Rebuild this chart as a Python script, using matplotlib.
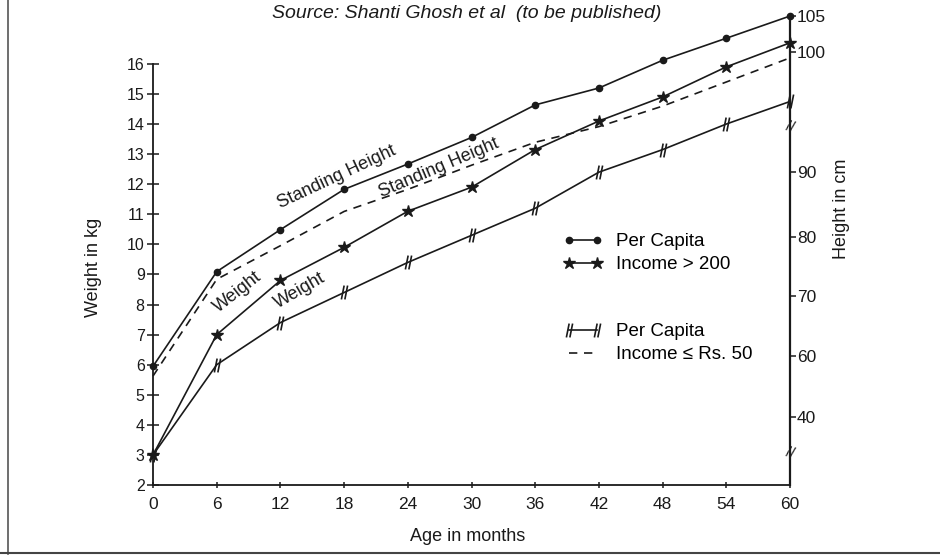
import numpy as np
import matplotlib
matplotlib.use('Agg')
import matplotlib.pyplot as plt
from matplotlib.path import Path
from matplotlib.lines import Line2D

plt.rcParams['font.family'] = ['Liberation Sans', 'DejaVu Sans']

# data
ages = [0, 6, 12, 18, 24, 30, 36, 42, 48, 54, 60]
weight_high = [3.0, 7.0, 8.8, 9.9, 11.1, 11.9, 13.15, 14.1, 14.9, 15.9, 16.7]   # kg
weight_low = [3.0, 6.0, 7.4, 8.4, 9.4, 10.3, 11.2, 12.4, 13.15, 14.0, 14.75]    # kg
height_high = [56.7, 74.2, 81.2, 87.4, 90.7, 92.9, 95.6, 97.0, 99.3, 101.9, 105.0]  # cm
height_low = [53.5, 72.9, 78.6, 84.0, 87.4, 90.6, 92.5, 93.8, 95.5, 97.5, 99.5]     # cm

weight_ticks = list(range(2, 17))
height_ticks = [40, 60, 70, 80, 90, 100, 105]
age_ticks = ages

# the right hand (height) axis of the original is drawn piecewise, with breaks
cm_knots = np.array([10, 40, 60, 70, 80, 90, 100, 105, 115])
kg_knots = np.array([1.23, 4.26, 6.28, 8.27, 10.23, 12.39, 16.40, 17.59, 19.97])


def fwd(v):
    return np.interp(v, cm_knots, kg_knots)


def inv(v):
    return np.interp(v, kg_knots, cm_knots)


ink = '#1a1a1a'
hash_marker = Path([(-0.45, -1), (-0.05, 1), (0.05, -1), (0.45, 1)],
                   [Path.MOVETO, Path.LINETO, Path.MOVETO, Path.LINETO])

fig = plt.figure(figsize=(9.4, 5.6), dpi=100)
ax = fig.add_axes([0.1628, 0.1339, 0.6777, 0.8375])
ax2 = ax.twinx()

ax.set_xlim(0, 60)
ax.set_ylim(2, 17.59)
ax2.set_yscale('function', functions=(fwd, inv))
ax2.set_ylim(inv(2), 105)

# weights on the left axis
l_wh, = ax.plot(ages, weight_high, '-', color=ink, lw=1.2, marker='*', ms=9,
                mec=ink, mfc=ink, clip_on=False)
l_wl, = ax.plot(ages, weight_low, '-', color=ink, lw=1.2, marker=hash_marker,
                ms=10, mec=ink, mew=1.2, clip_on=False)
# heights on the right axis
l_hh, = ax2.plot(ages, height_high, '-', color=ink, lw=1.2, marker='o', ms=4.5,
                 mec=ink, mfc=ink, clip_on=False)
l_hl, = ax2.plot(ages, height_low, '--', color=ink, lw=1.2, dashes=(5, 4),
                 clip_on=False)

# spines and ticks
for a in (ax, ax2):
    a.spines['top'].set_visible(False)
ax.spines['right'].set_visible(False)
ax2.spines['left'].set_visible(False)
ax2.spines['bottom'].set_visible(False)
ax.spines['left'].set_bounds(2, 16)
for s in ('left', 'bottom'):
    ax.spines[s].set_linewidth(1.3)
    ax.spines[s].set_color(ink)
ax2.spines['right'].set_linewidth(1.6)
ax2.spines['right'].set_color(ink)

ax.set_xticks(age_ticks)
ax.set_yticks(weight_ticks)
ax.tick_params(axis='y', direction='inout', length=8, width=1.1, pad=2,
               labelsize=11.5, colors=ink)
ax.tick_params(axis='x', direction='inout', length=5, width=1.1, pad=6,
               labelsize=12.5, colors=ink)
ax2.set_yticks(height_ticks)
ax2.set_yticklabels([str(t) for t in height_ticks])
ax2.yaxis.set_minor_locator(matplotlib.ticker.NullLocator())
ax2.tick_params(axis='y', direction='out', length=4, width=1.1, pad=1,
                labelsize=12.5, colors=ink)

# axis break marks on the height axis
for yb in (13.9, 3.05):
    ax.text(1.0, yb, '//', transform=ax.get_yaxis_transform(), ha='center',
            va='center', fontsize=11, color=ink, rotation=-15)

ax.set_ylabel('Weight in kg', fontsize=13, color=ink)
ax.yaxis.set_label_coords(-0.080, 0.463)
ax2.set_ylabel('Height in cm', fontsize=13, color=ink)
ax2.yaxis.set_label_coords(1.0675, 0.588)
ax.set_xlabel('Age in months', fontsize=13, color=ink)
ax.xaxis.set_label_coords(0.494, -0.092)

fig.text(0.497, 0.975, 'Source: Shanti Ghosh et al  (to be published)',
         ha='center', va='center', fontsize=14, style='italic', color=ink)

# curve labels
kw = dict(ha='center', va='center', fontsize=13, color=ink,
          rotation_mode='anchor')
ax.text(17.3, 12.25, 'Standing Height', rotation=25, **kw)
ax.text(26.9, 12.55, 'Standing Height', rotation=23, **kw)
ax.text(8.0, 8.40, 'Weight', rotation=38, **kw)
ax.text(13.85, 8.47, 'Weight', rotation=30, **kw)

# legends (two blocks of two rows each)
leg_kw = dict(loc='upper left', frameon=False, fontsize=13.5, handlelength=2.1,
              handletextpad=0.7, labelspacing=0.31, borderaxespad=0,
              borderpad=0, numpoints=2)
leg1 = ax.legend([l_hh, l_wh], ['Per Capita', 'Income > 200'],
                 bbox_to_anchor=(0.644, 0.537), **leg_kw)
ax.add_artist(leg1)
ax.legend([l_wl, l_hl], ['Per Capita', 'Income \u2264 Rs. 50'],
          bbox_to_anchor=(0.644, 0.345), **leg_kw)

# frame lines of the scanned page
fig.add_artist(Line2D([0.009, 0.009], [0.01, 1.0], color='#555555', lw=1.2))
fig.add_artist(Line2D([0.0, 1.0], [0.012, 0.012], color='#444444', lw=1.5))

fig.savefig('out.png', dpi=100, facecolor='white')
